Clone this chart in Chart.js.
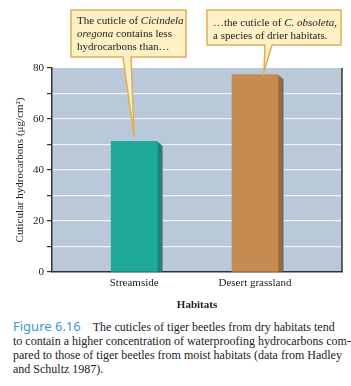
<!DOCTYPE html>
<html>
<head>
<meta charset="utf-8">
<script src="https://cdn.jsdelivr.net/npm/chart.js@4"></script>
<style>
  body { margin: 0; background: #fff; }
  #wrap { position: relative; width: 351px; height: 386px; overflow: hidden; }
  #box { position: absolute; left: 0; top: 0; width: 351px; height: 312px; }
  .note { position: absolute; font-family: 'Liberation Serif', serif; font-size: 11px; color: #222; white-space: nowrap; }
  #caption { position: absolute; left: 13px; top: 319px; font-family: 'Liberation Serif', serif; font-size: 12px; line-height: 14px; color: #222; white-space: nowrap; }
  #caption .fig { font-family: 'Noto Sans', sans-serif; font-size: 13px; color: #3a98d6; margin-right: 12px; }
</style>
</head>
<body>
<div id="wrap">
  <div id="box"><canvas id="myChart"></canvas></div>
  <div class="note" style="left:77px; top:14px; line-height:13px;">The cuticle of <i>Cicindela</i><br><i>oregona</i> contains less<br>hydrocarbons than…</div>
  <div class="note" style="left:213px; top:16px; line-height:12.5px;">…the cuticle of <i>C. obsoleta</i>,<br>a species of drier habitats.</div>
  <div id="caption"><span class="fig">Figure 6.16</span>The cuticles of tiger beetles from dry habitats tend<br>to contain a higher concentration of waterproofing hydrocarbons com-<br>pared to those of tiger beetles from moist habitats (data from Hadley<br>and Schultz 1987).</div>
</div>
<script>
const habitats = ['Streamside', 'Desert grassland'];
const hydrocarbons = [51.2, 77.4];
const barColors = ['#1fa99a', '#c68b50'];
const shadeColors = ['#12877b', '#9b6a37'];
const yTicks = [0, 20, 40, 60, 80];

const serif = "'Liberation Serif', serif";

// plot background, right edge and bar side faces
const decor = {
    id: 'decor',
    beforeDraw(chart) {
        const {ctx, chartArea: a} = chart;
        ctx.save();
        ctx.fillStyle = '#b9c9da';
        ctx.fillRect(a.left, a.top, a.right - a.left, a.bottom - a.top);
        ctx.restore();
    },
    beforeDatasetsDraw(chart) {
        const ctx = chart.ctx;
        chart.getDatasetMeta(0).data.forEach((bar, i) => {
            const right = bar.x + bar.width / 2;
            ctx.save();
            ctx.fillStyle = '#5f7076';
            ctx.fillRect(right, bar.y + 4, 5.5, bar.base - bar.y - 4);
            ctx.fillStyle = shadeColors[i];
            ctx.beginPath();
            ctx.moveTo(right, bar.y);
            ctx.lineTo(right + 4, bar.y + 3);
            ctx.lineTo(right + 4, bar.base);
            ctx.lineTo(right, bar.base);
            ctx.closePath();
            ctx.fill();
            ctx.restore();
        });
    },
    afterDraw(chart) {
        const {ctx, chartArea: a} = chart;
        ctx.save();
        ctx.strokeStyle = '#333';
        ctx.lineWidth = 1.5;
        ctx.beginPath();
        ctx.moveTo(a.right, a.top);
        ctx.lineTo(a.right, a.bottom);
        ctx.stroke();

        // callout boxes with tails pointing at the bars
        const bars = chart.getDatasetMeta(0).data;
        const callouts = [
            {l: 71, t: 10, r: 186, b: 57, tl: 123, tr: 131, tip: {x: bars[0].x, y: bars[0].y - 4}},
            {l: 207, t: 10, r: 341, b: 45, tl: 265, tr: 272, tip: {x: bars[1].x + 9, y: bars[1].y - 3}}
        ];
        callouts.forEach(c => {
            ctx.beginPath();
            ctx.moveTo(c.l, c.t);
            ctx.lineTo(c.r, c.t);
            ctx.lineTo(c.r, c.b);
            ctx.lineTo(c.tr, c.b);
            ctx.lineTo(c.tip.x, c.tip.y);
            ctx.lineTo(c.tl, c.b);
            ctx.lineTo(c.l, c.b);
            ctx.closePath();
            ctx.fillStyle = '#fdf0c5';
            ctx.fill();
            ctx.strokeStyle = '#e0ae55';
            ctx.lineWidth = 1.5;
            ctx.stroke();
        });
        ctx.restore();
    }
};

const config = {
    type: 'bar',
    data: {
        datasets: [{
            data: hydrocarbons.map((v, i) => ({x: i + 1, y: v})),
            backgroundColor: barColors,
            borderWidth: 0,
            barThickness: 46
        }]
    },
    options: {
        responsive: true,
        maintainAspectRatio: false,
        animation: false,
        layout: {
            padding: {left: 0, top: 68, right: 9, bottom: 0}
        },
        scales: {
            x: {
                type: 'linear',
                offset: false,
                min: 0.32,
                max: 2.72,
                afterBuildTicks: (s) => { s.ticks = habitats.map((h, i) => ({value: i + 1})); },
                afterFit: (s) => { s.height = 40; },
                grid: {
                    display: false,
                    drawTicks: false
                },
                border: {
                    color: '#333',
                    width: 1.5
                },
                ticks: {
                    autoSkip: false,
                    maxRotation: 0,
                    padding: 5,
                    color: '#222',
                    font: {family: serif, size: 11},
                    callback: (v) => habitats[v - 1] || ''
                },
                title: {
                    display: true,
                    text: 'Habitats',
                    color: '#222',
                    font: {family: serif, size: 11, weight: 'bold'},
                    padding: {top: 3, bottom: 0}
                }
            },
            y: {
                min: 0,
                max: 80,
                afterFit: (s) => { s.width = 52; },
                grid: {
                    color: (c) => (c.tick && (c.tick.value === 0 || c.tick.value === 80)) ? 'rgba(0,0,0,0)' : '#edf2f7',
                    lineWidth: 1.2,
                    tickColor: '#333',
                    tickLength: 5,
                    tickWidth: 1.2
                },
                border: {
                    color: '#333',
                    width: 1.5
                },
                ticks: {
                    stepSize: 10,
                    padding: 3,
                    color: '#222',
                    font: {family: serif, size: 11},
                    callback: (v) => yTicks.includes(v) ? v : ''
                },
                title: {
                    display: true,
                    text: 'Cuticular hydrocarbons (μg/cm²)',
                    color: '#222',
                    font: {family: serif, size: 11},
                    padding: {top: 14, bottom: 0}
                }
            }
        },
        plugins: {
            legend: {
                display: false
            },
            tooltip: {
                enabled: false
            }
        }
    },
    plugins: [decor]
};

const myChart = new Chart(
    document.getElementById('myChart').getContext('2d'),
    config
);
</script>
</body>
</html>
